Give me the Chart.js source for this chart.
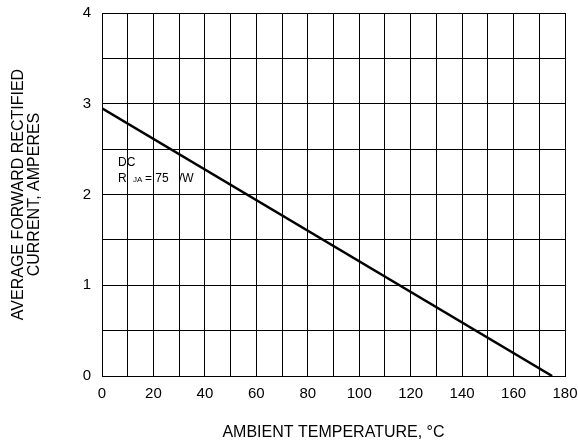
<!DOCTYPE html>
<html>
<head>
<meta charset="utf-8">
<script src="https://cdn.jsdelivr.net/npm/chart.js@4/dist/chart.umd.min.js"></script>
<style>
  html, body { margin: 0; padding: 0; background: #fff; }
  #wrap { width: 578px; height: 442px; }
</style>
</head>
<body>
<div id="wrap"><canvas id="derating" width="578" height="442"></canvas></div>
<script>
// derating curve
const ambientTemp = [0, 175]
const avgCurrent = [2.95, 0]
const xTickLabels = [0, 20, 40, 60, 80, 100, 120, 140, 160, 180]
const yTickLabels = [0, 1, 2, 3, 4]

const points = ambientTemp.map((t, i) => ({ x: t, y: avgCurrent[i] }))
const FONT = '"Liberation Sans", Arial, sans-serif'

// note text drawn inside the plot, with the gaps the original shows
const notePlugin = {
    id: 'note',
    afterDatasetsDraw(chart) {
        const ctx = chart.ctx
        const x0 = chart.scales.x.getPixelForValue(0) + 16
        const y2 = chart.scales.y.getPixelForValue(2)
        ctx.save()
        ctx.fillStyle = '#000'
        ctx.textBaseline = 'alphabetic'
        ctx.font = '12px ' + FONT
        ctx.fillText('DC', x0, y2 - 29)
        const yb = y2 - 13
        ctx.fillText('R', x0, yb)
        ctx.font = '8px ' + FONT
        ctx.fillText('JA', x0 + 15, yb)
        ctx.font = '12px ' + FONT
        ctx.fillText('= 75', x0 + 27, yb)
        ctx.fillText('/W', x0 + 61, yb)
        ctx.restore()
    }
}

new Chart(document.getElementById('derating'), {
    type: 'scatter',
    data: {
        datasets: [{
            data: points,
            showLine: true,
            borderColor: '#000',
            borderWidth: 2.5,
            pointRadius: 0,
            fill: false
        }]
    },
    options: {
        responsive: false,
        animation: false,
        devicePixelRatio: 1,
        layout: { padding: { left: 11, right: 0, top: 0, bottom: 0 } },
        plugins: { legend: { display: false }, tooltip: { enabled: false } },
        scales: {
            x: {
                type: 'linear',
                min: 0,
                max: 180,
                ticks: {
                    stepSize: 10,
                    color: '#000',
                    font: { family: FONT, size: 15 },
                    padding: 9,
                    maxRotation: 0,
                    autoSkip: false,
                    callback: v => xTickLabels.includes(v) ? v : ''
                },
                grid: { color: '#000', lineWidth: 1, drawTicks: false },
                border: { color: '#000', width: 1 },
                title: {
                    display: true,
                    text: 'AMBIENT TEMPERATURE, °C',
                    color: '#000',
                    font: { family: FONT, size: 16 },
                    padding: { top: 18, bottom: 0 }
                },
                afterFit: s => {
                    s.height = 66
                    s.paddingLeft = 0
                    s.paddingRight = 13
                }
            },
            y: {
                type: 'linear',
                min: 0,
                max: 4,
                ticks: {
                    stepSize: 0.5,
                    color: '#000',
                    font: { family: FONT, size: 15 },
                    padding: 11,
                    callback: v => yTickLabels.includes(v) ? v : ''
                },
                grid: { color: '#000', lineWidth: 1, drawTicks: false },
                border: { color: '#000', width: 1 },
                title: {
                    display: true,
                    text: ['AVERAGE FORWARD RECTIFIED', 'CURRENT, AMPERES'],
                    color: '#000',
                    font: { family: FONT, size: 16, lineHeight: 1 },
                    padding: { top: 0, bottom: 40 }
                },
                afterFit: s => {
                    s.width = 91
                    s.paddingTop = 13
                    s.paddingBottom = 0
                }
            }
        }
    },
    plugins: [notePlugin]
})
</script>
</body>
</html>
